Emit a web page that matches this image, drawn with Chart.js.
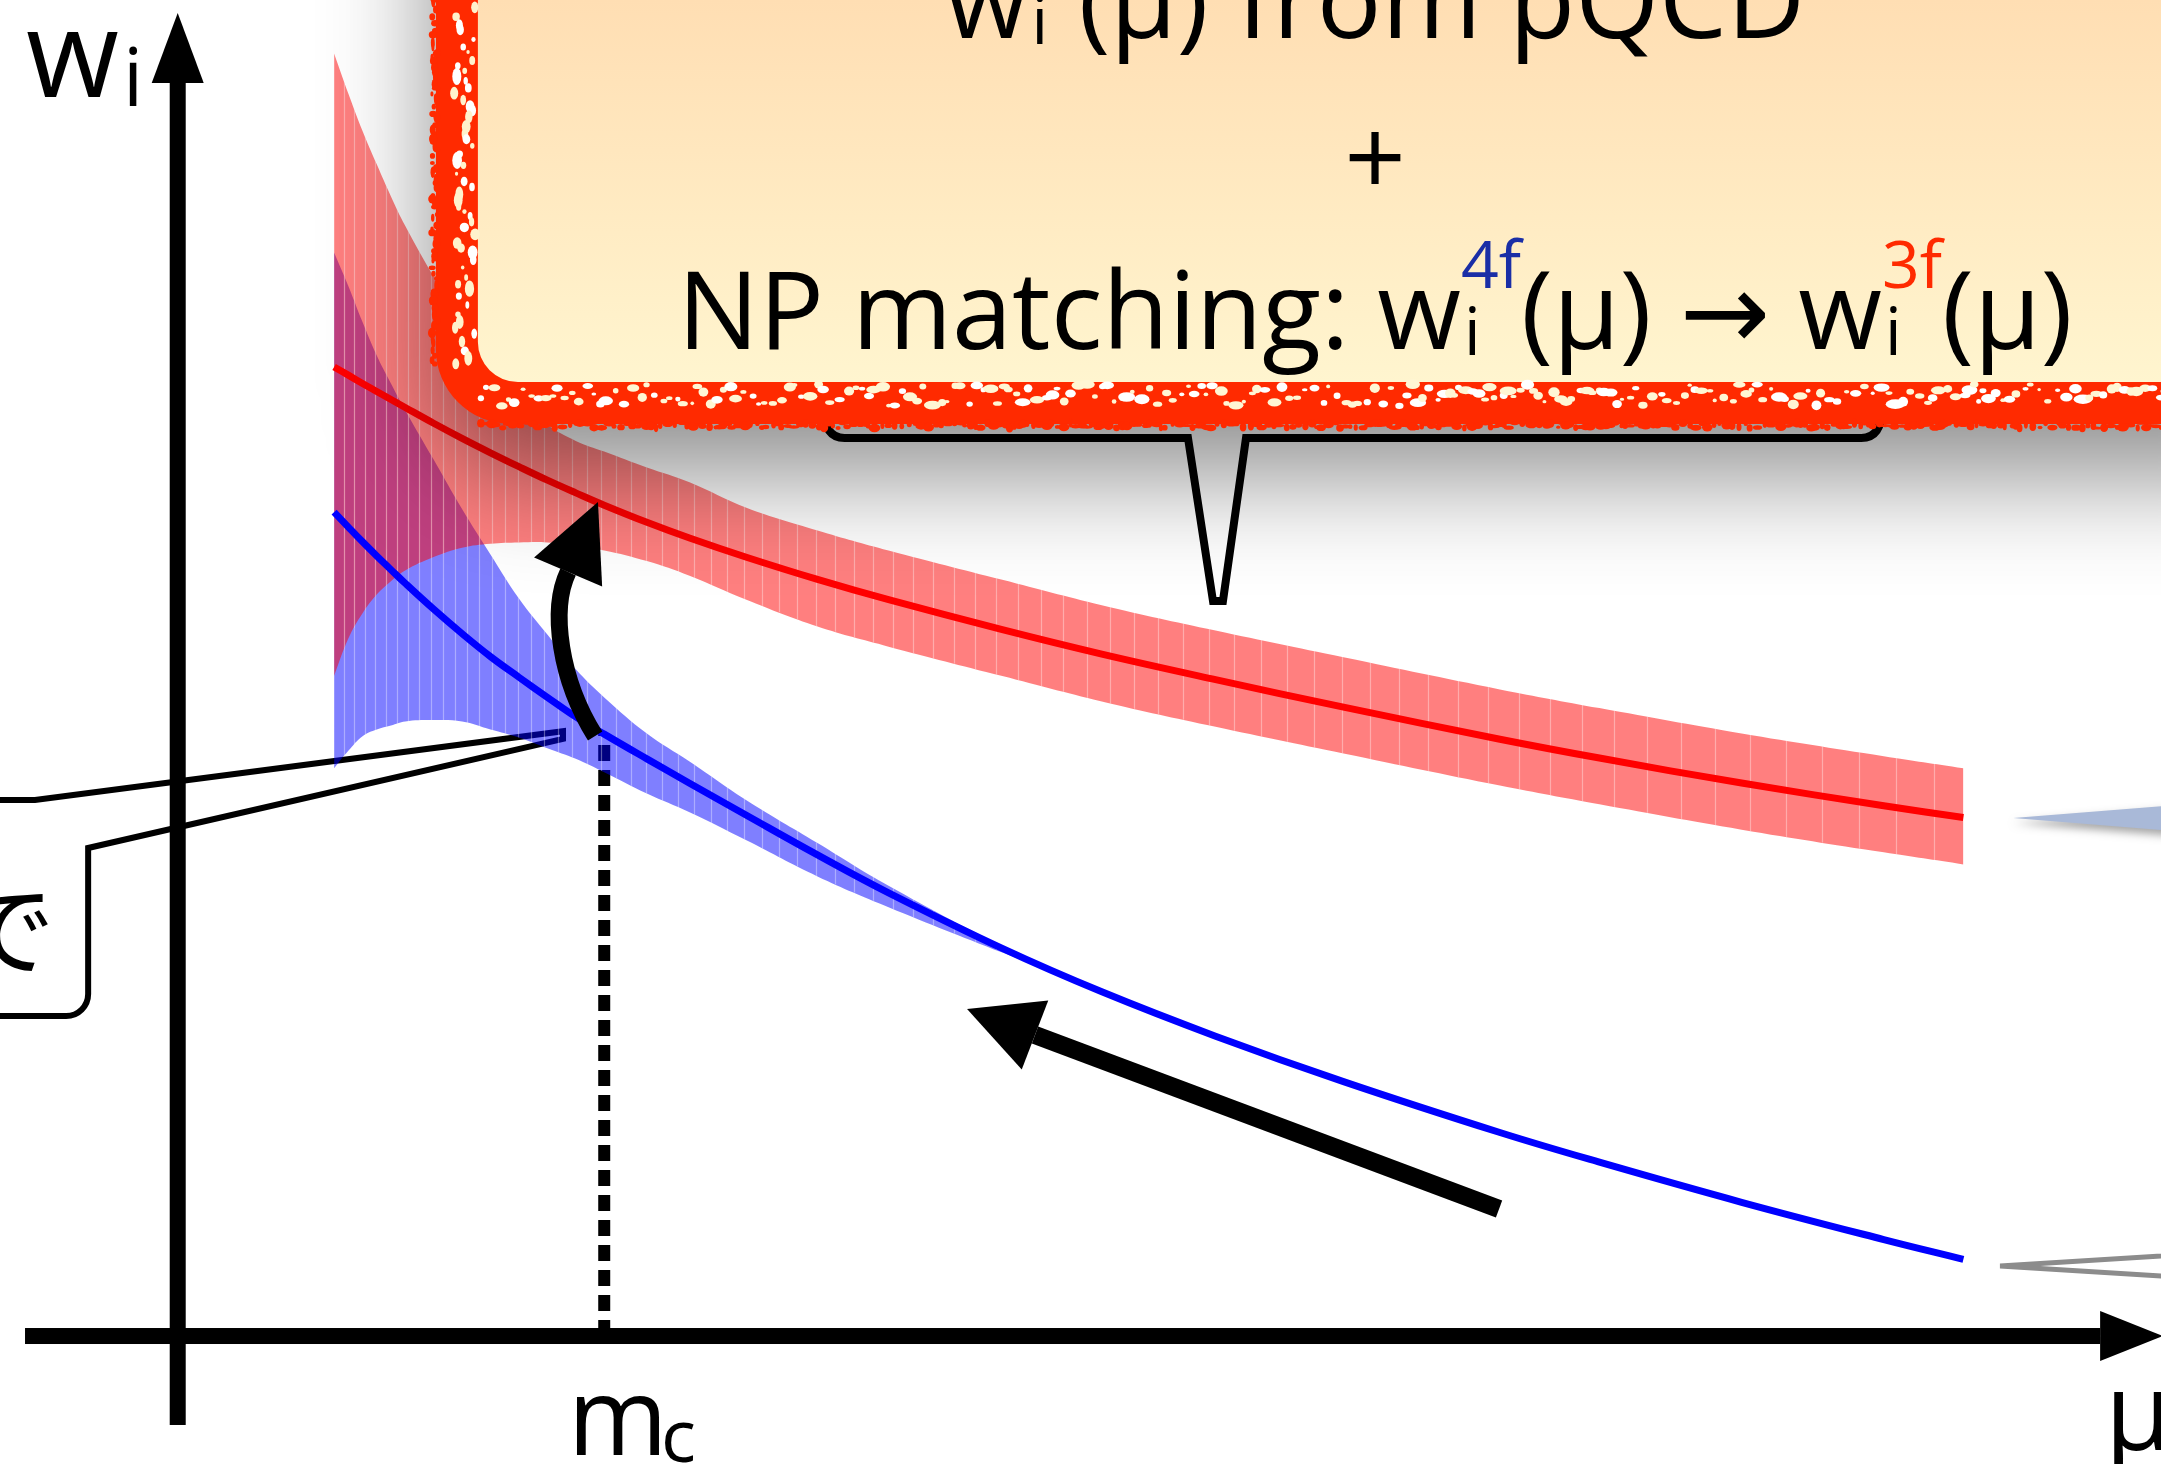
<!DOCTYPE html>
<html lang="en">
<head>
<meta charset="UTF-8">
<meta name="viewport" content="width=device-width, initial-scale=1.0">
<title>Wilson coefficients across the charm threshold</title>
<script src="https://cdn.jsdelivr.net/npm/chart.js"></script>
<style>
  html, body { margin: 0; padding: 0; background: #ffffff; overflow: hidden; }
  #wrap { position: relative; width: 2161px; height: 1464px; }
</style>
</head>
<body>
<div id="wrap"><canvas id="wilsonChart"></canvas></div>
<script>
// scale mu in arbitrary units, charm threshold at mu = m_c
const MC = 1.5;
const muGrid = [0.55, 0.6, 0.65, 0.7, 0.75, 0.8, 0.9, 1.0, 1.1, 1.2, 1.3, 1.4, 1.5, 1.65, 1.8,
                2.0, 2.25, 2.5, 2.9, 3.25, 3.65, 4.1, 4.65, 5.0, 5.5, 6.0, 6.28];

// three-flavour coefficient w_i^3f (red): central value and scale-variation envelope
const w3fCentral = [7.253, 7.192, 7.130, 7.070, 7.010, 6.950, 6.832, 6.719, 6.611, 6.507, 6.406, 6.311, 6.219,
                    6.091, 5.973, 5.829, 5.663, 5.511, 5.287, 5.104, 4.913, 4.707, 4.467, 4.326, 4.139, 3.969, 3.881];
const w3fUpper   = [9.60, 9.30, 9.02, 8.77, 8.53, 8.31, 7.93, 7.59, 7.28, 7.01, 6.82, 6.70, 6.62, 6.50, 6.39,
                    6.20, 6.03, 5.88, 5.66, 5.47, 5.28, 5.08, 4.84, 4.70, 4.51, 4.34, 4.25];
const w3fLower   = [4.94, 5.22, 5.41, 5.55, 5.65, 5.73, 5.83, 5.90, 5.93, 5.94, 5.94, 5.91, 5.88, 5.80, 5.69,
                    5.51, 5.31, 5.16, 4.94, 4.75, 4.56, 4.36, 4.12, 3.98, 3.79, 3.62, 3.53];

// four-flavour coefficient w_i^4f (blue), envelope only where it is still open
const w4fCentral = [6.167, 6.055, 5.945, 5.839, 5.736, 5.634, 5.440, 5.257, 5.085, 4.931, 4.781, 4.634, 4.505,
                    4.320, 4.138, 3.898, 3.601, 3.317, 2.901, 2.576, 2.244, 1.904, 1.523, 1.301, 1.001, 0.722, 0.574];
const muBand4f = muGrid.slice(0, 20);
const w4fUpper = [8.11, 7.86, 7.59, 7.34, 7.13, 6.93, 6.56, 6.19, 5.85, 5.52, 5.25, 4.99, 4.78, 4.51, 4.30,
                  4.01, 3.69, 3.37, 2.92, 2.58];
const w4fLower = [4.25, 4.38, 4.49, 4.54, 4.57, 4.60, 4.61, 4.60, 4.54, 4.48, 4.40, 4.32, 4.22, 4.06, 3.92,
                  3.71, 3.44, 3.21, 2.87, 2.58];

// visible window of the (mu, w) plane
const MU_MIN = -0.625, MU_MAX = 6.975;
const W_MIN = -0.958, W_MAX = 10;

const FONT = '"Open Sans", "DejaVu Sans", sans-serif';

const pts = (xs, ys) => ys.map((y, i) => ({ x: xs[i], y: y }));
const mcTop = w4fCentral[muGrid.indexOf(MC)];

function rrect(ctx, x, y, w, h, r) {
    ctx.beginPath();
    ctx.moveTo(x + r, y);
    ctx.arcTo(x + w, y, x + w, y + h, r);
    ctx.arcTo(x + w, y + h, x, y + h, r);
    ctx.arcTo(x, y + h, x, y, r);
    ctx.arcTo(x, y, x + w, y, r);
    ctx.closePath();
}

const hash = n => { const s = Math.sin(n * 12.9898 + 78.233) * 43758.5453; return s - Math.floor(s); };

// text runs with stacked sub/superscripts, squeezed to a given width
function runWidth(ctx, p) {
    if (p.t !== undefined) {
        ctx.font = p.size + 'px ' + FONT;
        return ctx.measureText(p.t).width;
    }
    ctx.font = p.small + 'px ' + FONT;
    return Math.max(p.sub ? ctx.measureText(p.sub).width : 0,
                    p.sup ? ctx.measureText(p.sup).width : 0, p.gap || 0);
}
function drawRich(ctx, parts, cx, by, target) {
    const widths = parts.map(p => runWidth(ctx, p));
    const natural = widths.reduce((a, b) => a + b, 0);
    const k = target ? target / natural : 1;
    ctx.save();
    ctx.translate(cx - natural * k / 2, by);
    ctx.scale(k, 1);
    ctx.textAlign = 'left';
    ctx.textBaseline = 'alphabetic';
    let x = 0;
    parts.forEach((p, i) => {
        if (p.t !== undefined) {
            ctx.font = p.size + 'px ' + FONT;
            ctx.fillStyle = p.color || '#000';
            ctx.fillText(p.t, x, 0);
        } else {
            ctx.font = p.small + 'px ' + FONT;
            if (p.sub) { ctx.fillStyle = '#000'; ctx.fillText(p.sub, x + 3, p.subDy); }
            if (p.sup) { ctx.fillStyle = p.supColor; ctx.fillText(p.sup, x, p.supDy); }
        }
        x += widths[i];
    });
    ctx.restore();
}

function arrowHead(ctx, bx, by, tx, ty, half) {
    const dx = tx - bx, dy = ty - by, len = Math.hypot(dx, dy);
    const nx = -dy / len * half, ny = dx / len * half;
    ctx.beginPath();
    ctx.moveTo(tx, ty);
    ctx.lineTo(bx + nx, by + ny);
    ctx.lineTo(bx - nx, by - ny);
    ctx.closePath();
    ctx.fill();
}

const sketch = {
    id: 'sketch',
    beforeDatasetsDraw(chart) {
        const ctx = chart.ctx;
        const X = v => chart.scales.x.getPixelForValue(v);
        const Y = v => chart.scales.y.getPixelForValue(v);
        ctx.save();

        // speech bubble coming in from the left edge
        ctx.strokeStyle = '#000';
        ctx.lineWidth = 6;
        ctx.lineJoin = 'miter';
        ctx.beginPath();
        ctx.moveTo(X(-0.7), Y(4.012));
        ctx.lineTo(X(-0.502), Y(4.012));
        ctx.lineTo(X(1.355), Y(4.527));
        ctx.lineTo(X(1.355), Y(4.470));
        ctx.lineTo(X(-0.315), Y(3.653));
        ctx.lineTo(X(-0.315), Y(2.56));
        ctx.arcTo(X(-0.315), Y(2.395), X(-0.45), Y(2.395), 22);
        ctx.lineTo(X(-0.7), Y(2.395));
        ctx.stroke();
        ctx.fillStyle = '#000';
        ctx.font = '100px "Noto Sans CJK JP"';
        ctx.textAlign = 'left';
        ctx.textBaseline = 'alphabetic';
        ctx.fillText('で', X(-0.783), Y(2.762));

        // axes
        const x0 = X(0), y0 = Y(0);
        ctx.fillRect(X(-0.537), y0 - 8, X(6.761) - X(-0.537), 16);
        arrowHead(ctx, X(6.761), y0, X(6.982), y0, 25);
        ctx.fillRect(x0 - 8, Y(9.379), 16, Y(-0.666) - Y(9.379));
        arrowHead(ctx, x0, Y(9.379), x0, Y(9.903), 26);
        ctx.restore();
    },
    afterDatasetDraw(chart, args) {
        // thin pale sampling stripes across each envelope
        const pairs = { 2: 3, 4: 5 };
        if (!(args.index in pairs)) return;
        const up = chart.getDatasetMeta(args.index).data;
        const lo = chart.getDatasetMeta(pairs[args.index]).data;
        const ctx = chart.ctx;
        ctx.save();
        ctx.beginPath();
        up.forEach((p, i) => i ? ctx.lineTo(p.x, p.y) : ctx.moveTo(p.x, p.y));
        for (let i = lo.length - 1; i >= 0; i--) ctx.lineTo(lo[i].x, lo[i].y);
        ctx.closePath();
        ctx.clip();
        ctx.strokeStyle = 'rgba(255,255,255,0.35)';
        ctx.lineWidth = 1.2;
        const a = up[0].x, b = up[up.length - 1].x;
        ctx.beginPath();
        for (let x = a + 10; x < b - 2; x += 10 + 0.018 * (x - a)) {
            const xx = Math.round(x) + 0.5;
            ctx.moveTo(xx, 0);
            ctx.lineTo(xx, chart.height);
        }
        ctx.stroke();
        ctx.restore();
    },
    afterDraw(chart) {
        const ctx = chart.ctx;
        const X = v => chart.scales.x.getPixelForValue(v);
        const Y = v => chart.scales.y.getPixelForValue(v);
        const W = chart.width;
        ctx.save();

        // brace with pointer under the text box
        ctx.strokeStyle = '#000';
        ctx.lineWidth = 8;
        ctx.lineJoin = 'miter';
        ctx.beginPath();
        ctx.moveTo(X(2.272), Y(6.95));
        ctx.quadraticCurveTo(X(2.272), Y(6.722), X(2.345), Y(6.722));
        ctx.lineTo(X(3.553), Y(6.722));
        ctx.lineTo(X(3.641), Y(5.501));
        ctx.lineTo(X(3.676), Y(5.501));
        ctx.lineTo(X(3.757), Y(6.722));
        ctx.lineTo(X(5.921), Y(6.722));
        ctx.quadraticCurveTo(X(5.994), Y(6.722), X(5.994), Y(6.95));
        ctx.stroke();

        // text box: red frame with a soft drop shadow
        const L = X(0.908), B = Y(6.826), T = -400, R = W + 400;
        ctx.save();
        ctx.shadowColor = 'rgba(0,0,0,0.45)';
        ctx.shadowBlur = 110;
        ctx.shadowOffsetY = 50;
        rrect(ctx, L, T, R - L, B - T, 75);
        ctx.fillStyle = '#ff2a00';
        ctx.fill();
        ctx.restore();

        const inset = 42;
        const g = ctx.createLinearGradient(0, 0, 0, B - inset);
        g.addColorStop(0, '#ffdeb3');
        g.addColorStop(1, '#fff5cf');
        rrect(ctx, L + inset, T, R - L, B - inset - T, 40);
        ctx.fillStyle = g;
        ctx.fill();

        // rough edge of the frame
        let i = 0;
        for (let x = L + 45; x < W + 10; x += 4 + hash(i) * 6, i++) {
            const r = 1.5 + hash(i + 7000) * 3.5;
            ctx.fillStyle = hash(i + 9000) < 0.6 ? '#fff6d4' : '#ffffff';
            ctx.beginPath();
            ctx.ellipse(x, B - inset + 2 + hash(i + 3000) * 22, r * (1 + hash(i + 11000)), r, 0, 0, Math.PI * 2);
            ctx.fill();
        }
        for (let y = -10; y < B - 60; y += 4 + hash(i) * 6, i++) {
            const r = 1.5 + hash(i + 7000) * 3.5;
            ctx.fillStyle = hash(i + 9000) < 0.6 ? '#fff2cc' : '#ffffff';
            ctx.beginPath();
            ctx.ellipse(L + inset - 2 - hash(i + 3000) * 22, y, r, r * (1 + hash(i + 11000)), 0, 0, Math.PI * 2);
            ctx.fill();
        }
        ctx.fillStyle = '#ff2a00';
        for (let x = L + 45; x < W + 10; x += 3 + hash(i) * 5, i++) {
            ctx.beginPath();
            ctx.ellipse(x, B - 1 + hash(i + 3000) * 5, 2 + hash(i + 5000) * 4, 1.5 + hash(i + 6000) * 3, 0, 0, Math.PI * 2);
            ctx.fill();
        }
        for (let y = -10; y < B - 60; y += 3 + hash(i) * 5, i++) {
            ctx.beginPath();
            ctx.ellipse(L + 1 - hash(i + 3000) * 5, y, 1.5 + hash(i + 6000) * 3, 2 + hash(i + 5000) * 4, 0, 0, Math.PI * 2);
            ctx.fill();
        }

        // box text
        const cx = X(4.211);
        drawRich(ctx, [
            { t: 'w', size: 108 },
            { sub: 'i', small: 66, subDy: 6, gap: 50 },
            { t: '(μ) from pQCD', size: 108 }
        ], cx, Y(9.716), 860);
        ctx.font = '108px ' + FONT;
        ctx.fillStyle = '#000';
        ctx.textAlign = 'center';
        ctx.fillText('+', cx, Y(8.533));
        drawRich(ctx, [
            { t: 'NP matching: w', size: 108 },
            { sub: 'i', sup: '4f', supColor: '#1a2ea6', small: 66, subDy: 6, supDy: -61 },
            { t: '(μ) → w', size: 108 },
            { sub: 'i', sup: '3f', supColor: '#ff2a00', small: 66, subDy: 6, supDy: -61 },
            { t: '(μ)', size: 108 }
        ], cx, Y(7.388), 1395);

        // matching step at m_c
        ctx.fillStyle = '#000';
        ctx.strokeStyle = '#000';
        ctx.lineCap = 'butt';
        ctx.lineWidth = 17;
        ctx.beginPath();
        ctx.moveTo(X(1.468), Y(4.491));
        ctx.bezierCurveTo(X(1.345), Y(4.910), X(1.309), Y(5.434), X(1.373), Y(5.719));
        ctx.stroke();
        arrowHead(ctx, X(1.373), Y(5.719), X(1.478), Y(6.243), 37);

        // running down towards m_c
        ctx.lineWidth = 18;
        ctx.beginPath();
        ctx.moveTo(X(4.647), Y(0.951));
        ctx.lineTo(X(3.015), Y(2.253));
        ctx.stroke();
        arrowHead(ctx, X(3.015), Y(2.253), X(2.776), Y(2.448), 37);

        // pointers entering from the right
        ctx.save();
        ctx.shadowColor = 'rgba(0,0,0,0.35)';
        ctx.shadowBlur = 8;
        ctx.shadowOffsetY = 5;
        ctx.fillStyle = '#a9b9d8';
        ctx.beginPath();
        ctx.moveTo(X(6.455), Y(3.877));
        ctx.lineTo(X(7.288), Y(4.019));
        ctx.lineTo(X(7.288), Y(3.735));
        ctx.closePath();
        ctx.fill();
        ctx.restore();
        ctx.strokeStyle = '#8c8c8c';
        ctx.lineWidth = 5;
        ctx.lineJoin = 'miter';
        ctx.beginPath();
        ctx.moveTo(X(7.288), Y(0.640));
        ctx.lineTo(X(6.409), Y(0.524));
        ctx.lineTo(X(7.288), Y(0.408));
        ctx.stroke();

        // axis labels
        ctx.fillStyle = '#000';
        ctx.textAlign = 'left';
        ctx.textBaseline = 'alphabetic';
        ctx.font = '120px ' + FONT;
        ctx.fillText('w', X(-0.534), Y(9.274));
        ctx.font = '80px ' + FONT;
        ctx.fillText('i', X(-0.192), Y(9.207));
        ctx.font = '108px ' + FONT;
        ctx.fillText('m', X(1.372), Y(-0.891));
        ctx.fillText('μ', X(6.778), Y(-0.853));
        ctx.font = '73px ' + FONT;
        ctx.fillText('c', X(1.700), Y(-0.943));
        ctx.restore();
    }
};

const band = { borderWidth: 0, borderColor: 'transparent', pointRadius: 0 };

new Chart(document.getElementById('wilsonChart'), {
    type: 'line',
    data: {
        datasets: [
            { label: 'w3f', data: pts(muGrid, w3fCentral), borderColor: '#ff0000', borderWidth: 7, fill: false },
            { label: 'w4f', data: pts(muGrid, w4fCentral), borderColor: '#0000ff', borderWidth: 7, fill: false },
            Object.assign({ label: 'w3f upper', data: pts(muGrid, w3fUpper), backgroundColor: 'rgba(255,0,0,0.5)', fill: 3 }, band),
            Object.assign({ label: 'w3f lower', data: pts(muGrid, w3fLower), fill: false }, band),
            Object.assign({ label: 'w4f upper', data: pts(muBand4f, w4fUpper), backgroundColor: 'rgba(0,0,255,0.5)', fill: 5 }, band),
            Object.assign({ label: 'w4f lower', data: pts(muBand4f, w4fLower), fill: false }, band),
            { label: 'mc', data: [{ x: MC, y: 0 }, { x: MC, y: mcTop }], borderColor: '#000', borderWidth: 12,
              borderDash: [16, 9], borderCapStyle: 'butt', tension: 0, fill: false }
        ]
    },
    options: {
        responsive: true,
        maintainAspectRatio: false,
        animation: false,
        events: [],
        layout: { padding: 0 },
        elements: {
            point: { radius: 0 },
            line: { cubicInterpolationMode: 'default', tension: 0.4 }
        },
        plugins: {
            legend: { display: false },
            tooltip: { enabled: false }
        },
        scales: {
            x: { type: 'linear', min: MU_MIN, max: MU_MAX, display: false },
            y: { type: 'linear', min: W_MIN, max: W_MAX, display: false }
        }
    },
    plugins: [sketch]
});
</script>
</body>
</html>
